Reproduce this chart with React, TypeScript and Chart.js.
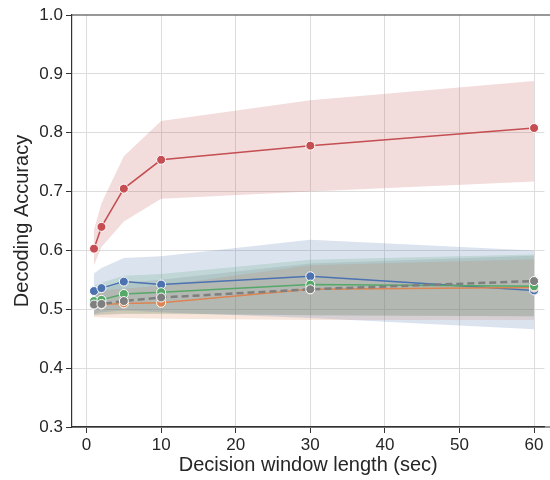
import React, { useEffect, useRef } from "react";
import { Chart, registerables } from "chart.js";

Chart.register(...registerables);

const xValues = [1, 2, 5, 10, 30, 60];

const redMean = [0.603, 0.64, 0.705, 0.754, 0.778, 0.808];
const redLow = [0.575, 0.606, 0.649, 0.688, 0.7, 0.717];
const redHigh = [0.635, 0.68, 0.76, 0.82, 0.855, 0.888];

const blueMean = [0.531, 0.536, 0.547, 0.542, 0.556, 0.532];
const blueLow = [0.492, 0.495, 0.498, 0.495, 0.485, 0.466];
const blueHigh = [0.561, 0.57, 0.587, 0.59, 0.618, 0.6];

const greenMean = [0.514, 0.516, 0.526, 0.529, 0.542, 0.539];
const greenLow = [0.49, 0.492, 0.493, 0.492, 0.49, 0.488];
const greenHigh = [0.54, 0.545, 0.557, 0.56, 0.584, 0.593];

const orangeMean = [0.508, 0.508, 0.51, 0.511, 0.534, 0.537];
const orangeLow = [0.487, 0.486, 0.485, 0.484, 0.482, 0.482];
const orangeHigh = [0.53, 0.532, 0.535, 0.54, 0.575, 0.585];

const grayMean = [0.508, 0.509, 0.514, 0.52, 0.534, 0.548];
const grayLow = [0.49, 0.49, 0.492, 0.493, 0.49, 0.488];
const grayHigh = [0.53, 0.533, 0.545, 0.55, 0.578, 0.591];

const xTicks = [0, 10, 20, 30, 40, 50, 60];
const yTicks = [0.3, 0.4, 0.5, 0.6, 0.7, 0.8, 0.9, 1.0];

const pts = (ys: number[]) => xValues.map((x, i) => ({ x, y: ys[i] }));

const FONT = "'Liberation Sans', Arial, sans-serif";

const spines = {
  id: "spines",
  afterDraw(chart: any) {
    const { ctx, chartArea } = chart;
    ctx.save();
    ctx.strokeStyle = "#333333";
    ctx.lineWidth = 1.2;
    ctx.beginPath();
    ctx.moveTo(chartArea.left, chartArea.top);
    ctx.lineTo(chart.width, chartArea.top);
    ctx.moveTo(chartArea.left, chartArea.bottom);
    ctx.lineTo(chart.width, chartArea.bottom);
    ctx.stroke();
    ctx.restore();
  },
};

export default function App() {
  const ref = useRef<HTMLCanvasElement>(null);
  useEffect(() => {
    if (!ref.current) return;
    const band = (low: number[], high: number[], color: string, order: number) => [
      {
        data: pts(low),
        borderWidth: 0,
        pointRadius: 0,
        fill: false,
        order,
      },
      {
        data: pts(high),
        borderWidth: 0,
        pointRadius: 0,
        fill: "-1",
        backgroundColor: color,
        order,
      },
    ];
    const line = (ys: number[], color: string, order: number, dashed = false) => ({
      data: pts(ys),
      borderColor: color,
      backgroundColor: color,
      borderWidth: dashed ? 2.5 : 1.5,
      borderDash: dashed ? [7, 4] : [],
      pointRadius: 4.5,
      pointBorderColor: "#ffffff",
      pointBorderWidth: 1,
      pointBackgroundColor: color,
      fill: false,
      order,
    });
    const chart = new Chart(ref.current, {
      type: "line",
      data: {
        datasets: [
          ...band(redLow, redHigh, "rgba(196,78,82,0.2)", 20),
          ...band(blueLow, blueHigh, "rgba(76,114,176,0.2)", 21),
          ...band(orangeLow, orangeHigh, "rgba(221,132,82,0.2)", 22),
          ...band(greenLow, greenHigh, "rgba(85,168,104,0.2)", 23),
          ...band(grayLow, grayHigh, "rgba(127,127,127,0.2)", 24),
          line(redMean, "#C44E52", 5),
          line(blueMean, "#4C72B0", 4),
          line(orangeMean, "#DD8452", 3),
          line(greenMean, "#55A868", 2),
          line(grayMean, "#7f7f7f", 1, true),
        ] as any,
      },
      options: {
        animation: false,
        responsive: false,
        maintainAspectRatio: false,
        layout: { padding: { top: 15, right: 0, left: 0, bottom: 0 } },
        plugins: {
          legend: { display: false },
          tooltip: { enabled: false },
          filler: { drawTime: "beforeDatasetsDraw" },
        } as any,
        scales: {
          x: {
            type: "linear",
            min: -1.95,
            max: 61.4,
            afterBuildTicks: (s: any) => {
              s.ticks = xTicks.map((v) => ({ value: v }));
            },
            afterFit: (s: any) => {
              s.height = 53;
              s.paddingLeft = 0;
              s.paddingRight = 0;
            },
            ticks: {
              font: { family: FONT, size: 17 },
              color: "#262626",
              padding: 2,
            },
            grid: {
              color: "#dcdcdc",
              lineWidth: 1,
              tickColor: "#333333",
              tickLength: 6,
            },
            border: { color: "#333333", width: 1.2 },
            title: {
              display: true,
              text: "Decision window length (sec)",
              font: { family: FONT, size: 20 },
              color: "#262626",
              padding: { top: 0, bottom: 3 },
            },
          },
          y: {
            type: "linear",
            min: 0.3,
            max: 1.0,
            afterBuildTicks: (s: any) => {
              s.ticks = yTicks.map((v) => ({ value: v }));
            },
            afterFit: (s: any) => {
              s.width = 72;
              s.paddingTop = 0;
              s.paddingBottom = 0;
            },
            ticks: {
              font: { family: FONT, size: 17 },
              color: "#262626",
              padding: 3,
              callback: (v: any) => Number(v).toFixed(1),
            },
            grid: {
              color: (c: any) => (c.tick && c.tick.value >= 0.999 ? "rgba(0,0,0,0)" : "#dcdcdc"),
              lineWidth: 1,
              tickColor: "#333333",
              tickLength: 6,
            },
            border: { color: "#333333", width: 1.2 },
            title: {
              display: true,
              text: "Decoding Accuracy",
              font: { family: FONT, size: 20 },
              color: "#262626",
              padding: { top: 10, bottom: 0 },
            },
          },
        },
      } as any,
      plugins: [spines],
    });
    return () => chart.destroy();
  }, []);
  return (
    <div style={{ position: "fixed", left: 0, top: 0, width: 550, height: 480, background: "#fff" }}>
      <canvas ref={ref} width={550} height={480} style={{ width: 550, height: 480, display: "block" }} />
    </div>
  );
}
